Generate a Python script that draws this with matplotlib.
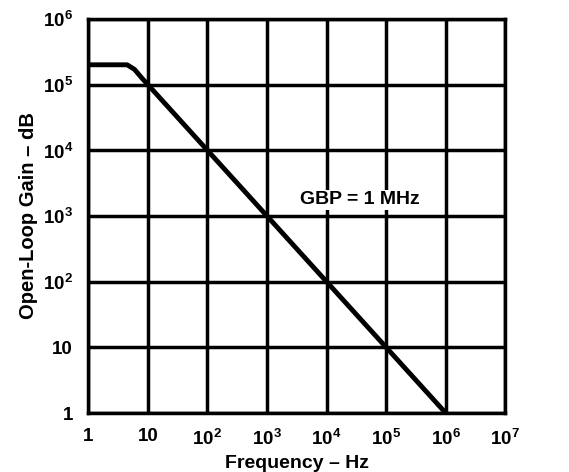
import numpy as np
import matplotlib
matplotlib.use('Agg')
import matplotlib.pyplot as plt

plt.rcParams['font.family'] = 'Liberation Sans'
plt.rcParams['font.weight'] = 'bold'
plt.rcParams['mathtext.fontset'] = 'custom'
plt.rcParams['mathtext.rm'] = 'Liberation Sans:bold'
plt.rcParams['mathtext.bf'] = 'Liberation Sans:bold'

# open-loop gain curve
freq = [1, 4.5, 6, 8, 10, 1e6]
gain = [2e5, 2e5, 1.7e5, 1.25e5, 1e5, 1]

x_ticks = [1, 10, 1e2, 1e3, 1e4, 1e5, 1e6, 1e7]
x_labels = ['1', '10', r'$10^{2}$', r'$10^{3}$', r'$10^{4}$', r'$10^{5}$', r'$10^{6}$', r'$10^{7}$']
y_ticks = [1, 10, 1e2, 1e3, 1e4, 1e5, 1e6]
y_labels = ['1', '10', r'$10^{2}$', r'$10^{3}$', r'$10^{4}$', r'$10^{5}$', r'$10^{6}$']

fig = plt.figure(figsize=(5.69, 4.72), dpi=100)
ax = fig.add_axes([0.155, 0.125, 0.733, 0.835])

ax.plot(freq, gain, color='black', lw=3.5, solid_capstyle='butt')
ax.set_xscale('log')
ax.set_yscale('log')
ax.set_xlim(1, 1e7)
ax.set_ylim(1, 1e6)
ax.set_xticks(x_ticks)
ax.set_xticklabels(x_labels)
ax.set_yticks(y_ticks)
ax.set_yticklabels(y_labels)
ax.minorticks_off()
ax.tick_params(length=0, labelsize=13.5, pad=11)
ax.grid(True, color='black', lw=2.5)
ax.set_axisbelow(True)
for s in ax.spines.values():
    s.set_linewidth(2.5)

ax.text(3.6e4, 1.75e3, 'GBP = 1 MHz', fontsize=14, fontweight='bold', ha='center', va='center',
        bbox=dict(facecolor='white', edgecolor='none', pad=1))

ax.set_xlabel('Frequency \u2013 Hz', fontsize=14, fontweight='bold', labelpad=4)
ax.set_ylabel('Open-Loop Gain \u2013 dB', fontsize=14.5, fontweight='bold', labelpad=3)

fig.savefig('out.png', dpi=100)
